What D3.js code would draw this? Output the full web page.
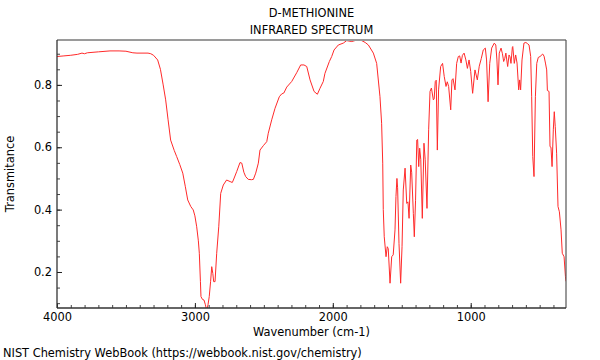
<!DOCTYPE html>
<html><head><meta charset="utf-8">
<script src="https://cdn.jsdelivr.net/npm/d3@7"></script>
<style>body{margin:0;background:#fff}svg{display:block;font-family:"DejaVu Sans",sans-serif}</style>
</head><body><svg id="c" width="600" height="360"></svg>
<script>
const titleLines = ["D-METHIONINE", "INFRARED SPECTRUM"];
const xLabel = "Wavenumber (cm-1)";
const yLabel = "Transmitance";
const footer = "NIST Chemistry WebBook (https://webbook.nist.gov/chemistry)";
const xMajorTicks = [4000, 3000, 2000, 1000];
const yMajorTicks = [0.2, 0.4, 0.6, 0.8];
const xDomain = [4000, 309];
const yDomain = [0.0845, 0.944];

const wavenumber = [4000,3950,3900,3850,3819,3800,3780,3700,3616,3550,3500,3450,3420,3340,3320,3300,3270,3250,3230,3212,3195,3176,3150,3132,3110,3088,3070,3052,3030,3012,3000,2987,2975,2968,2960,2956,2945,2934,2924,2914,2905,2896,2886,2878,2870,2864,2854,2842,2827,2813,2794,2770,2745,2729,2721,2697,2673,2660,2645,2632,2613,2590,2576,2559,2540,2528,2504,2479,2468,2443,2419,2388,2371,2355,2334,2298,2262,2233,2209,2189,2165,2136,2112,2093,2069,2057,2025,2008,1991,1960,1924,1899,1863,1840,1822,1790,1765,1742,1706,1682,1658,1646,1638,1634,1627,1614,1605,1598,1585,1573,1562,1549,1542,1535,1530,1520,1508,1498,1489,1476,1464,1455,1447,1435,1428,1416,1409,1400,1391,1385,1377,1370,1362,1351,1339,1330,1317,1305,1295,1285,1271,1265,1257,1250,1242,1233,1218,1204,1192,1179,1170,1160,1145,1136,1128,1114,1102,1090,1080,1070,1060,1048,1035,1024,1012,1000,986,969,952,938,923,909,894,885,874,862,848,829,818,810,802,793,780,770,761,753,745,732,722,715,708,698,695,684,674,664,652,645,638,628,614,600,590,577,565,558,550,541,531,521,510,497,478,468,458,449,444,432,425,418,410,401,394,387,377,367,357,345,336,323,313,309];
const transmittance = [0.891,0.893,0.895,0.898,0.902,0.900,0.903,0.906,0.909,0.909,0.908,0.903,0.902,0.902,0.900,0.895,0.880,0.850,0.800,0.752,0.690,0.623,0.590,0.570,0.545,0.517,0.475,0.431,0.410,0.399,0.380,0.345,0.300,0.260,0.170,0.121,0.112,0.110,0.095,0.075,0.095,0.121,0.170,0.217,0.195,0.169,0.169,0.260,0.345,0.452,0.479,0.495,0.490,0.487,0.495,0.522,0.551,0.549,0.520,0.506,0.497,0.496,0.497,0.517,0.549,0.591,0.605,0.618,0.645,0.688,0.725,0.762,0.771,0.774,0.793,0.811,0.839,0.864,0.864,0.859,0.816,0.779,0.770,0.789,0.811,0.837,0.875,0.891,0.912,0.928,0.934,0.942,0.939,0.942,0.944,0.942,0.936,0.928,0.902,0.869,0.762,0.677,0.549,0.400,0.313,0.249,0.281,0.275,0.164,0.249,0.255,0.335,0.442,0.500,0.470,0.292,0.164,0.281,0.463,0.533,0.420,0.425,0.372,0.543,0.520,0.388,0.313,0.430,0.623,0.625,0.538,0.597,0.560,0.372,0.613,0.560,0.404,0.656,0.779,0.790,0.752,0.755,0.811,0.815,0.591,0.784,0.859,0.869,0.827,0.795,0.810,0.795,0.720,0.816,0.820,0.784,0.869,0.891,0.893,0.870,0.895,0.902,0.880,0.853,0.880,0.843,0.773,0.848,0.816,0.860,0.885,0.912,0.918,0.880,0.746,0.869,0.918,0.934,0.928,0.880,0.800,0.902,0.918,0.900,0.875,0.885,0.902,0.859,0.896,0.890,0.869,0.920,0.923,0.869,0.896,0.870,0.784,0.816,0.784,0.880,0.934,0.936,0.933,0.928,0.891,0.762,0.570,0.506,0.762,0.869,0.888,0.891,0.899,0.892,0.870,0.848,0.782,0.779,0.602,0.600,0.538,0.656,0.714,0.666,0.581,0.410,0.393,0.335,0.260,0.249,0.185,0.170];

const FS = 11.4;
const svg = d3.select("#c");
const L = 57, R = 566, T = 40, B = 308;
const x = d3.scaleLinear().domain(xDomain).range([L, R]);
const y = d3.scaleLinear().domain(yDomain).range([B, T]);

svg.append("defs").append("clipPath").attr("id","clip")
  .append("rect").attr("x",L).attr("y",T).attr("width",R-L).attr("height",B-T);

const data = wavenumber.map((w,i)=>({w, t: transmittance[i]}));
svg.append("path").datum(data)
  .attr("clip-path","url(#clip)")
  .attr("fill","none").attr("stroke","#ff2a2a").attr("stroke-width",1)
  .attr("d", d3.line().x(d=>x(d.w)).y(d=>y(d.t)));

// frame top/right
svg.append("line").attr("x1",L).attr("x2",R).attr("y1",T).attr("y2",T).attr("stroke","#9a9a9a").attr("stroke-width",2);
svg.append("line").attr("x1",R).attr("x2",R).attr("y1",T).attr("y2",B).attr("stroke","#555").attr("stroke-width",1.2);

// x axis
const xMinor = d3.range(4000, 300, -100);
const gx = svg.append("g").attr("transform",`translate(0,${B})`);
gx.call(d3.axisBottom(x).tickValues(xMinor).tickSize(-3).tickFormat("")).call(g=>g.select(".domain").remove());
gx.selectAll(".tick line").attr("stroke","#444");
const gx2 = svg.append("g").attr("transform",`translate(0,${B})`);
gx2.call(d3.axisBottom(x).tickValues(xMajorTicks).tickSize(-5).tickPadding(5).tickFormat(d3.format("d")));
gx2.select(".domain").attr("stroke","#333").attr("stroke-width",1.3).attr("d",`M${L},0H${R}`);
gx2.selectAll(".tick line").attr("stroke","#222");
gx2.selectAll("text").attr("font-size",FS).attr("fill","#000").attr("font-family","DejaVu Sans").attr("y",5).attr("dy","0.71em");

// y axis
const yMinor = d3.range(0.1, 0.95, 0.05);
const gy = svg.append("g").attr("transform",`translate(${L},0)`);
gy.call(d3.axisLeft(y).tickValues(yMinor).tickSize(-3).tickFormat("")).call(g=>g.select(".domain").remove());
gy.selectAll(".tick line").attr("stroke","#444");
const gy2 = svg.append("g").attr("transform",`translate(${L},0)`);
gy2.call(d3.axisLeft(y).tickValues(yMajorTicks).tickSize(-5).tickPadding(5).tickFormat(d3.format(".1f")));
gy2.select(".domain").attr("stroke","#333").attr("stroke-width",1.3).attr("d",`M0,${T}V${B}`);
gy2.selectAll(".tick line").attr("stroke","#222");
gy2.selectAll("text").attr("font-size",FS).attr("fill","#000").attr("font-family","DejaVu Sans").attr("x",-5);

// titles
const cx = (L+R)/2;
svg.append("text").attr("x",cx).attr("y",17).attr("text-anchor","middle").attr("font-size",FS).text(titleLines[0]);
svg.append("text").attr("x",cx).attr("y",34).attr("text-anchor","middle").attr("font-size",FS).text(titleLines[1]);
svg.append("text").attr("x",cx).attr("y",336).attr("text-anchor","middle").attr("font-size",FS).text(xLabel);
svg.append("text").attr("transform",`translate(14,${(T+B)/2}) rotate(-90)`).attr("text-anchor","middle").attr("font-size",FS).text(yLabel);
svg.append("text").attr("x",3).attr("y",357).attr("font-size",FS).text(footer);
</script></body></html>
